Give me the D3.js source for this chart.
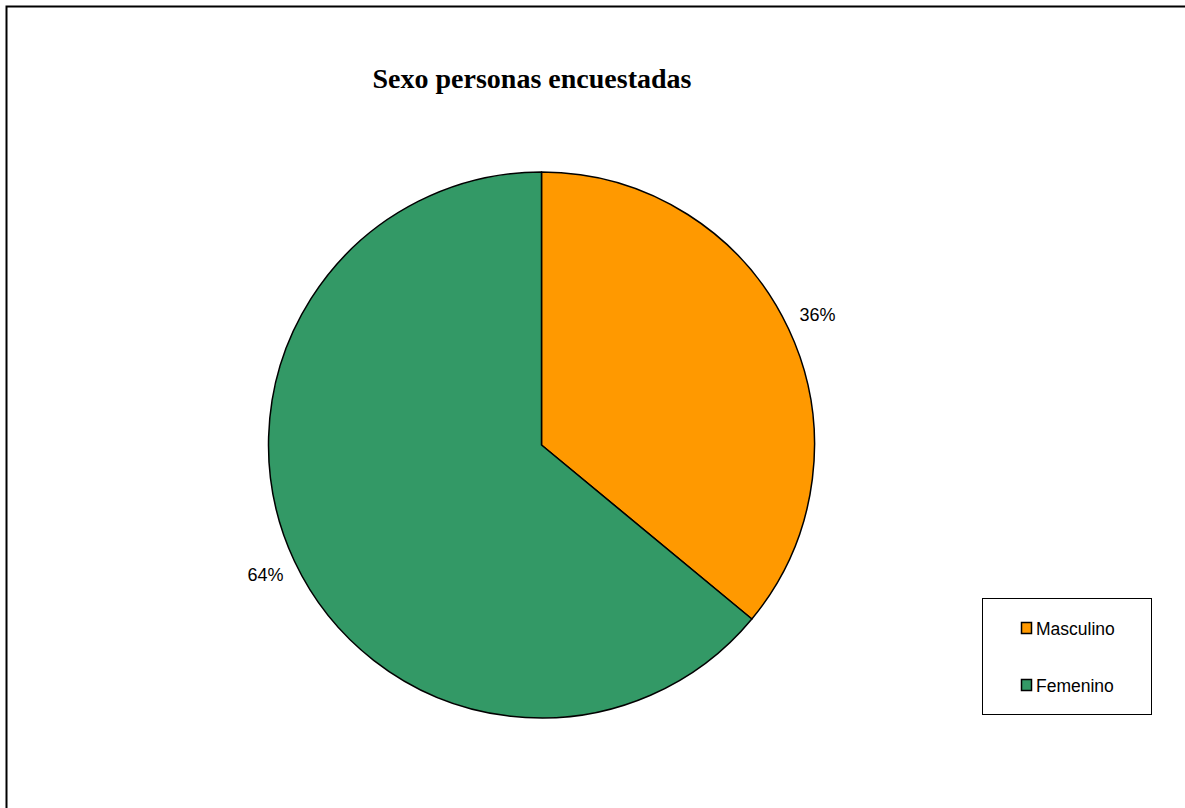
<!DOCTYPE html>
<html>
<head>
<meta charset="utf-8">
<script src="https://cdn.jsdelivr.net/npm/d3@7"></script>
<style>
  html, body { margin: 0; padding: 0; background: #fff; }
  svg { display: block; }
</style>
</head>
<body>
<svg id="chart" width="1185" height="808"></svg>
<script>
// Survey respondents by sex
const categories = ["Masculino", "Femenino"];
const values = [36, 64];
const labels = ["36%", "64%"];
const colors = ["#FF9900", "#339966"];

const svg = d3.select("#chart");
const W = 1185, H = 808;

// chart area frame (extends past the page edges on the right and bottom)
svg.append("rect")
  .attr("x", 6.5).attr("y", 6.5)
  .attr("width", W + 10).attr("height", H + 10)
  .attr("fill", "#fff")
  .attr("stroke", "#000")
  .attr("stroke-width", 2);

svg.append("text")
  .attr("x", 532).attr("y", 88)
  .attr("text-anchor", "middle")
  .attr("font-family", "'Liberation Serif', 'Times New Roman', serif")
  .attr("font-weight", "bold")
  .attr("font-size", 28)
  .text("Sexo personas encuestadas");

const cx = 541.5, cy = 445, r = 273;
const data = categories.map((c, i) => ({ name: c, value: values[i], label: labels[i], color: colors[i] }));

const pie = d3.pie().value(d => d.value).sort(null);
const arc = d3.arc().innerRadius(0).outerRadius(r);
const labelArc = d3.arc().innerRadius(r + 32).outerRadius(r + 32);

const g = svg.append("g").attr("transform", `translate(${cx},${cy})`);
const arcs = pie(data);

g.selectAll("path.slice")
  .data(arcs)
  .join("path")
  .attr("class", "slice")
  .attr("d", arc)
  .attr("fill", d => d.data.color)
  .attr("stroke", "#000")
  .attr("stroke-width", 1.5)
  .attr("stroke-linejoin", "round");

g.selectAll("text.pct")
  .data(arcs)
  .join("text")
  .attr("class", "pct")
  .attr("transform", d => {
    const [x, y] = labelArc.centroid(d);
    return `translate(${x},${y})`;
  })
  .attr("text-anchor", "middle")
  .attr("dominant-baseline", "central")
  .attr("font-family", "'Liberation Sans', Arial, sans-serif")
  .attr("font-size", 18)
  .attr("fill", "#000")
  .text(d => d.data.label);

// legend
const legend = svg.append("g");
legend.append("rect")
  .attr("x", 982.5).attr("y", 598.5)
  .attr("width", 169).attr("height", 116)
  .attr("fill", "#fff")
  .attr("stroke", "#000")
  .attr("stroke-width", 1);

const items = legend.selectAll("g.item")
  .data(data)
  .join("g")
  .attr("class", "item")
  .attr("transform", (d, i) => `translate(1021,${628 + i * 57})`);

items.append("rect")
  .attr("x", 0.5).attr("y", -5.5)
  .attr("width", 10).attr("height", 11)
  .attr("fill", d => d.color)
  .attr("stroke", "#000")
  .attr("stroke-width", 1.5);

items.append("text")
  .attr("x", 15).attr("y", 1)
  .attr("dominant-baseline", "central")
  .attr("font-family", "'Liberation Sans', Arial, sans-serif")
  .attr("font-size", 17.5)
  .attr("fill", "#000")
  .text(d => d.name);
</script>
</body>
</html>
